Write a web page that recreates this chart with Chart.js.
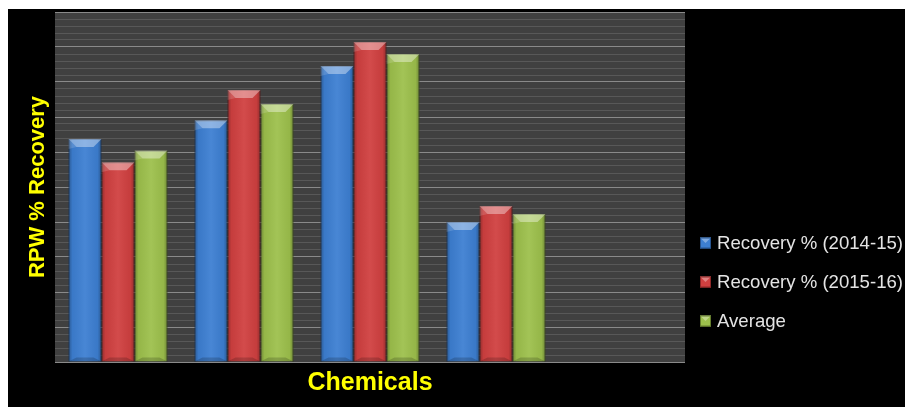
<!DOCTYPE html>
<html><head><meta charset="utf-8">
<script src="https://cdn.jsdelivr.net/npm/chart.js@4"></script>
<style>
html,body{margin:0;padding:0;background:#fff;overflow:hidden;}
#wrap{position:absolute;left:8px;top:9px;width:897px;height:398px;background:#000;}
</style></head><body>
<div id="wrap"><canvas id="c" width="897" height="398"></canvas></div>
<script>
// ---- data ----
const categories = ['Chemical 1', 'Chemical 2', 'Chemical 3', 'Chemical 4', ''];
const seriesNames = ['Recovery % (2014-15)', 'Recovery % (2015-16)', 'Average'];
const recovery2014 = [63.7, 69.1, 84.6, 40.0];
const recovery2015 = [57.1, 77.7, 91.4, 44.6];
const average = [60.4, 73.7, 88.0, 42.3];
const yTickValues = [0, 10, 20, 30, 40, 50, 60, 70, 80, 90, 100];
const axisTitles = { x: 'Chemicals', y: 'RPW % Recovery' };

// ---- style ----
const colors = ['#3d7fd2', '#d04040', '#9dc04c'];
const darkColors = ['#27548f', '#8e2727', '#647d2c'];

const plotBg = {
  id: 'plotBg',
  beforeDraw(chart) {
    const { ctx, chartArea: a } = chart;
    ctx.save();
    ctx.fillStyle = '#404040';
    ctx.fillRect(a.left, a.top, a.right - a.left, a.bottom - a.top);
    ctx.restore();
  }
};

const bevel = {
  id: 'bevel',
  afterDatasetsDraw(chart) {
    const ctx = chart.ctx;
    chart.data.datasets.forEach((ds, di) => {
      const meta = chart.getDatasetMeta(di);
      meta.data.forEach(bar => {
        const { x, y, base, width } = bar.getProps(['x', 'y', 'base', 'width'], true);
        const l = x - width / 2, r = x + width / 2, h = base - y;
        if (h <= 0) return;
        ctx.save();
        const g = ctx.createLinearGradient(l, 0, r, 0);
        g.addColorStop(0, 'rgba(0,0,0,0.30)');
        g.addColorStop(0.12, 'rgba(0,0,0,0.05)');
        g.addColorStop(0.5, 'rgba(255,255,255,0.06)');
        g.addColorStop(0.88, 'rgba(0,0,0,0.05)');
        g.addColorStop(1, 'rgba(0,0,0,0.30)');
        ctx.fillStyle = g;
        ctx.fillRect(l, y, width, h);
        const bv = 8;
        ctx.beginPath();
        ctx.moveTo(l, y); ctx.lineTo(r, y); ctx.lineTo(r - bv, y + bv); ctx.lineTo(l + bv, y + bv); ctx.closePath();
        ctx.fillStyle = 'rgba(255,255,255,0.38)';
        ctx.fill();
        ctx.beginPath();
        ctx.moveTo(l, y); ctx.lineTo(l + bv, y + bv); ctx.lineTo(l, y + bv + 2); ctx.closePath();
        ctx.fillStyle = 'rgba(255,255,255,0.15)';
        ctx.fill();
        ctx.beginPath();
        ctx.moveTo(l, base); ctx.lineTo(r, base); ctx.lineTo(r - bv, base - 4); ctx.lineTo(l + bv, base - 4); ctx.closePath();
        ctx.fillStyle = 'rgba(0,0,0,0.18)';
        ctx.fill();
        ctx.restore();
      });
    });
  }
};

const sideLegend = {
  id: 'sideLegend',
  afterDraw(chart) {
    const ctx = chart.ctx;
    const ys = [234, 273, 312];
    ctx.save();
    ctx.font = '18.6px "Liberation Sans", Arial, sans-serif';
    ctx.textBaseline = 'middle';
    chart.data.datasets.forEach((ds, i) => {
      const y = ys[i];
      const bx = 692, s = 11;
      ctx.fillStyle = colors[i];
      ctx.fillRect(bx, y - s / 2, s, s);
      ctx.beginPath();
      ctx.moveTo(bx, y - s / 2); ctx.lineTo(bx + s, y - s / 2); ctx.lineTo(bx + s / 2, y); ctx.closePath();
      ctx.fillStyle = 'rgba(255,255,255,0.35)';
      ctx.fill();
      ctx.strokeStyle = darkColors[i];
      ctx.lineWidth = 1;
      ctx.strokeRect(bx + 0.5, y - s / 2 + 0.5, s - 1, s - 1);
      ctx.fillStyle = '#e4e4e4';
      ctx.fillText(ds.label, 709, y + 1);
    });
    ctx.restore();
  }
};

const seriesData = [recovery2014, recovery2015, average];

new Chart(document.getElementById('c'), {
  type: 'bar',
  data: {
    labels: categories,
    datasets: seriesData.map((d, i) => ({
      label: seriesNames[i],
      data: d,
      backgroundColor: colors[i],
      borderColor: darkColors[i],
      borderWidth: 1,
      barPercentage: 1,
      categoryPercentage: 0.786
    }))
  },
  options: {
    responsive: false,
    animation: false,
    devicePixelRatio: 1,
    layout: { padding: { left: 0, top: 3, right: 220, bottom: 0 } },
    plugins: { legend: { display: false }, tooltip: { enabled: false } },
    scales: {
      x: {
        grid: { display: false },
        border: { display: false },
        ticks: { display: false },
        title: {
          display: true, text: axisTitles.x, color: '#ffff00',
          font: { family: '"Liberation Sans", Arial, sans-serif', size: 25, weight: 'bold' },
          padding: { top: 0, bottom: 9 }
        },
        afterFit(s) { s.height = 45; }
      },
      y: {
        min: yTickValues[0],
        max: yTickValues[yTickValues.length - 1],
        border: { display: false },
        ticks: { display: false, stepSize: 2, autoSkip: false, maxTicksLimit: 1000 },
        grid: {
          drawTicks: false,
          color: c => (yTickValues.includes(c.tick.value) ? '#8a8a8a' : '#585858'),
          lineWidth: 1
        },
        title: {
          display: true, text: axisTitles.y, color: '#ffff00',
          font: { family: '"Liberation Sans", Arial, sans-serif', size: 22, weight: 'bold' },
          padding: { top: 17, bottom: 0 }
        },
        afterFit(s) { s.width = 47; }
      }
    }
  },
  plugins: [plotBg, bevel, sideLegend]
});
</script>
</body></html>
